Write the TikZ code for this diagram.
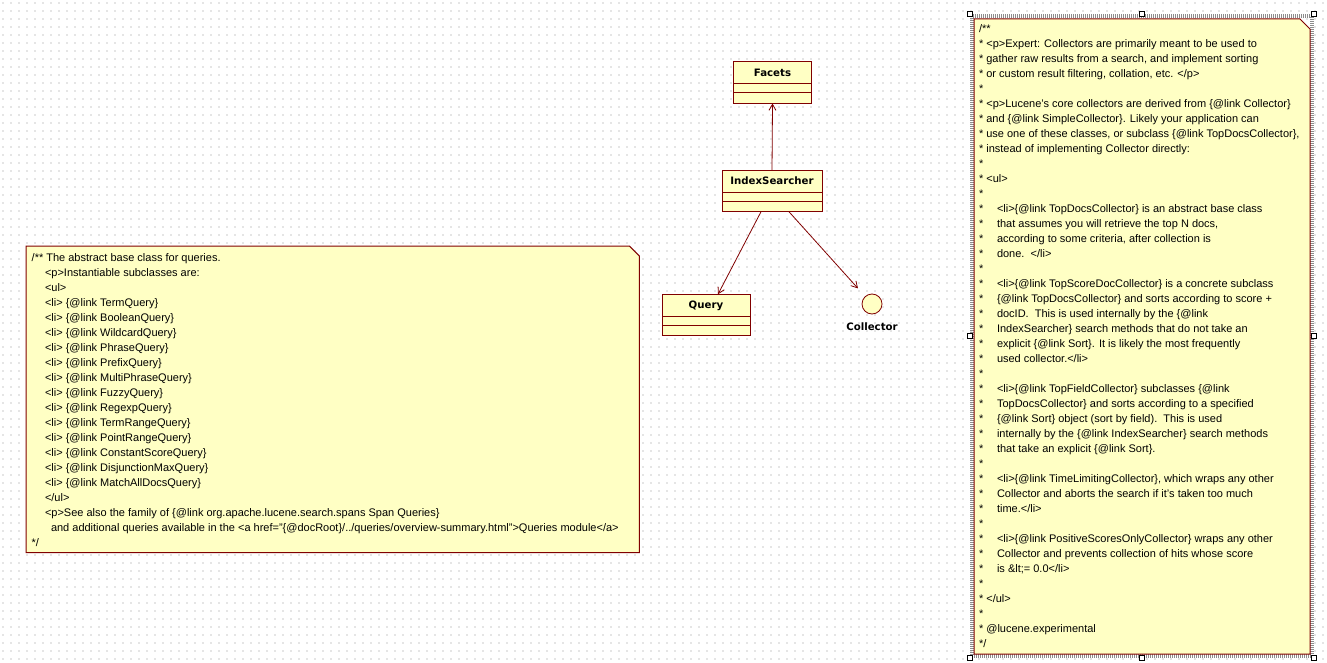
\documentclass[tikz,border=0pt]{standalone}
\usepackage{fontspec}
\setmainfont{Liberation Sans}
\newfontfamily\clsfont{DejaVu Sans}
\usetikzlibrary{arrows.meta}
\definecolor{umlfill}{HTML}{FFFFC4}
\definecolor{umlline}{HTML}{800000}
\newcommand\indstar{\makebox[18pt][l]{*}}

\begin{document}
\begin{tikzpicture}[x=1pt,y=-1pt,>={Straight Barb[angle=60:7pt]},
  every node/.style={inner sep=0pt,outer sep=0pt},
  cls/.style={draw=umlline,fill=umlfill,line width=1pt,minimum height=41.5pt},
  clsname/.style={font=\clsfont\bfseries\fontsize{10.2}{12}\selectfont,anchor=base,yshift=-14.7pt},
  assoc/.style={->,draw=umlline,line width=0.8pt},
  notebox/.style={fill=umlfill,draw=umlline,line width=1pt},
  notetext/.style={font=\fontsize{11}{15}\selectfont,anchor=base west},
  dotgrid/.style={draw=black!10,line width=1.2pt,dash pattern=on 1.2pt off 6.8pt},
  selband/.style={draw=black!45,line width=4pt,dash pattern=on 1pt off 1pt},
  handle/.style={draw=black,fill=white,line width=0.6pt,minimum size=5pt}]
\useasboundingbox[fill=white] (0,0) rectangle (1327,663);
% background grid of the editor
\foreach \y in {3,11,...,659}
  \draw[dotgrid] (2.4,\y) -- (1327,\y);

% classes
\node[cls,minimum width=78pt,label={[clsname]north:Facets}] (facets) at (772.5,82.75) {};
\node[cls,minimum width=100pt,label={[clsname]north:IndexSearcher}] (searcher) at (772,191) {};
\node[cls,minimum width=88pt,label={[clsname]north:Query}] (query) at (706,315) {};
\foreach \n in {facets,searcher,query}
  \draw[draw=umlline,line width=1pt] ([yshift=-22pt]\n.north west) -- ([yshift=-22pt]\n.north east)
    ([yshift=-31pt]\n.north west) -- ([yshift=-31pt]\n.north east);
% interface
\node[circle,draw=umlline,fill=umlfill,line width=0.8pt,minimum size=20pt,
  label={[clsname,yshift=-1.3pt]south:Collector}] (collector) at (872,304) {};

% associations
\draw[assoc] (searcher.north) -- (facets.south);
\draw[assoc] ([xshift=-11pt]searcher.south) -- ([xshift=12pt]query.north);
\draw[assoc,shorten >=11pt] ([xshift=17pt]searcher.south) -- (collector);

% selection frame of the right note
\node[minimum width=344pt,minimum height=644pt] (sel) at (1142,336) {};
\draw[selband] ([shift={(2,2)}]sel.north west) rectangle ([shift={(-2,-2)}]sel.south east);

% notes
\node[minimum width=613.3pt,minimum height=306.7pt,anchor=north west] (qnote) at (26,246) {};
\node[minimum width=336pt,minimum height=635pt,anchor=north west] (cnote) at (974,19) {};
\foreach \n in {qnote,cnote}
  \filldraw[notebox] (\n.north west) -- ([xshift=-10pt]\n.north east) -- ([yshift=-10pt]\n.north east)
    -- (\n.south east) -- (\n.south west) -- cycle;

\node[notetext] (qtext) at ([shift={(5.7,15)}]qnote.north west) {%
\begin{tabular}[t]{@{}l@{}}
/** The abstract base class for queries.\\
\hspace*{13.3pt}<p>Instantiable subclasses are:\\
\hspace*{13.3pt}<ul>\\
\hspace*{13.3pt}<li> \{@link TermQuery\}\\
\hspace*{13.3pt}<li> \{@link BooleanQuery\}\\
\hspace*{13.3pt}<li> \{@link WildcardQuery\}\\
\hspace*{13.3pt}<li> \{@link PhraseQuery\}\\
\hspace*{13.3pt}<li> \{@link PrefixQuery\}\\
\hspace*{13.3pt}<li> \{@link MultiPhraseQuery\}\\
\hspace*{13.3pt}<li> \{@link FuzzyQuery\}\\
\hspace*{13.3pt}<li> \{@link RegexpQuery\}\\
\hspace*{13.3pt}<li> \{@link TermRangeQuery\}\\
\hspace*{13.3pt}<li> \{@link PointRangeQuery\}\\
\hspace*{13.3pt}<li> \{@link ConstantScoreQuery\}\\
\hspace*{13.3pt}<li> \{@link DisjunctionMaxQuery\}\\
\hspace*{13.3pt}<li> \{@link MatchAllDocsQuery\}\\
\hspace*{13.3pt}</ul>\\
\hspace*{13.3pt}<p>See also the family of \{@link org.apache.lucene.search.spans Span Queries\}\\
\hspace*{19.3pt}and additional queries available in the <a href="\{@docRoot\}/../queries/overview-summary.html">Queries module</a>\\
{*}/
\end{tabular}};

\node[notetext] (ctext) at ([shift={(5,14)}]cnote.north west) {%
\begin{tabular}[t]{@{}l@{}}
/**\\
{*} <p>Expert: Collectors are primarily meant to be used to\\
{*} gather raw results from a search, and implement sorting\\
{*} or custom result filtering, collation, etc. </p>\\
{*}\\
{*} <p>Lucene's core collectors are derived from \{@link Collector\}\\
{*} and \{@link SimpleCollector\}. Likely your application can\\
{*} use one of these classes, or subclass \{@link TopDocsCollector\},\\
{*} instead of implementing Collector directly:\\
{*}\\
{*} <ul>\\
{*}\\
\indstar<li>\{@link TopDocsCollector\} is an abstract base class\\
\indstar that assumes you will retrieve the top N docs,\\
\indstar according to some criteria, after collection is\\
\indstar done.\ \ </li>\\
{*}\\
\indstar<li>\{@link TopScoreDocCollector\} is a concrete subclass\\
\indstar\{@link TopDocsCollector\} and sorts according to score +\\
\indstar docID.\ \ This is used internally by the \{@link\\
\indstar IndexSearcher\} search methods that do not take an\\
\indstar explicit \{@link Sort\}. It is likely the most frequently\\
\indstar used collector.</li>\\
{*}\\
\indstar<li>\{@link TopFieldCollector\} subclasses \{@link\\
\indstar TopDocsCollector\} and sorts according to a specified\\
\indstar\{@link Sort\} object (sort by field).\ \ This is used\\
\indstar internally by the \{@link IndexSearcher\} search methods\\
\indstar that take an explicit \{@link Sort\}.\\
{*}\\
\indstar<li>\{@link TimeLimitingCollector\}, which wraps any other\\
\indstar Collector and aborts the search if it's taken too much\\
\indstar time.</li>\\
{*}\\
\indstar<li>\{@link PositiveScoresOnlyCollector\} wraps any other\\
\indstar Collector and prevents collection of hits whose score\\
\indstar is \&lt;= 0.0</li>\\
{*}\\
{*} </ul>\\
{*}\\
{*} @lucene.experimental\\
{*}/
\end{tabular}};

% handles
\foreach \a in {north west,north,north east,east,south east,south,south west,west}
  \node[handle] (sel-\a) at (sel.\a) {};
\end{tikzpicture}
\end{document}
